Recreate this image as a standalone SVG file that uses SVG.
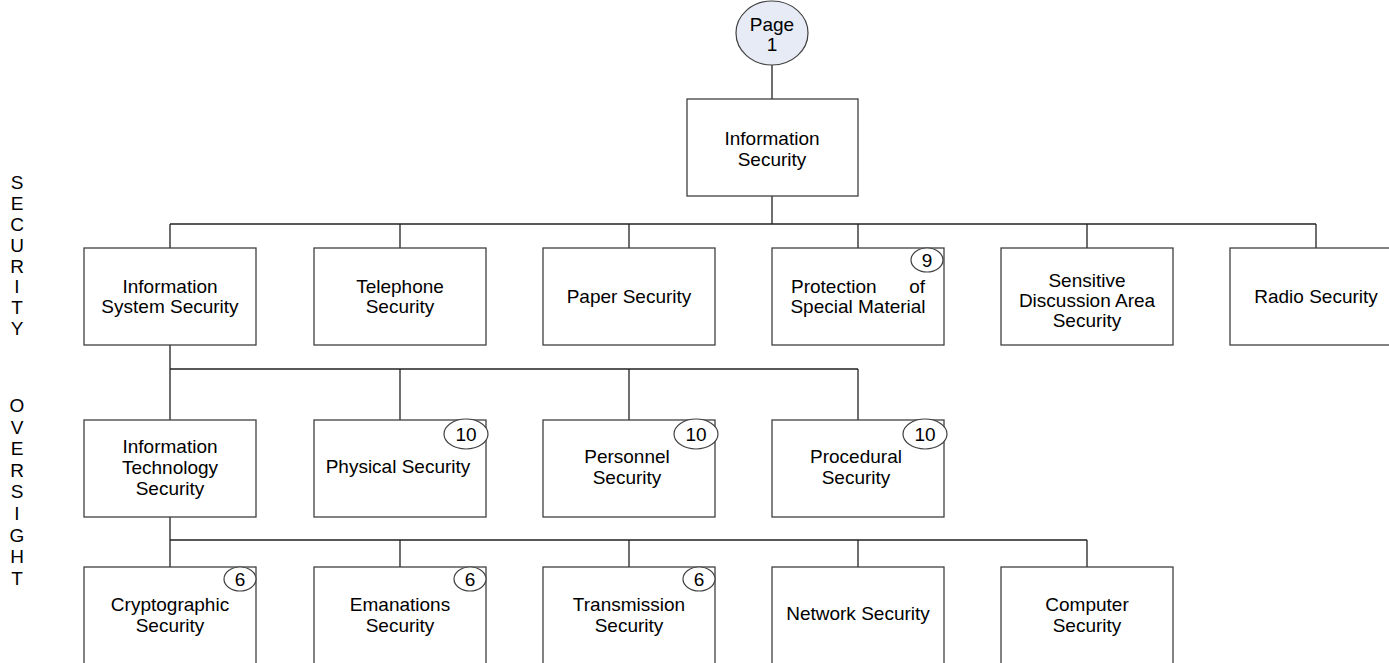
<svg xmlns="http://www.w3.org/2000/svg" width="1389" height="663" viewBox="0 0 1389 663">
<style>
.box{fill:#fff;stroke:#404040;stroke-width:1.3}
.badge{fill:#fff;stroke:#404040;stroke-width:1.2}
.page{fill:#e6ebf5;stroke:#404040;stroke-width:1.2}
.ln{stroke:#222;stroke-width:1.3;fill:none}
text{font-family:"Liberation Sans",Arial,sans-serif;font-size:19px;fill:#000;text-anchor:middle}
</style>
<rect width="1389" height="663" fill="#fff"/>
<g id="connectors">
<path class="ln" d="M772 65V99M772 196V224M170 224H1316M170 224V248M400 224V248M629 224V248M858 224V248M1087 224V248M1316 224V248"/>
<path class="ln" d="M170 345V369M170 369H858M170 369V420M400 369V420M629 369V420M858 369V420"/>
<path class="ln" d="M170 517V540M170 540H1087M170 540V567M400 540V567M629 540V567M858 540V567M1087 540V567"/>
</g>
<g id="side-label">
<text x="17" y="189">S</text><text x="17" y="210">E</text><text x="17" y="231">C</text><text x="17" y="252">U</text><text x="17" y="273">R</text><text x="17" y="293">I</text><text x="17" y="314">T</text><text x="17" y="335">Y</text>
<text x="17" y="412">O</text><text x="17" y="434">V</text><text x="17" y="455">E</text><text x="17" y="477">R</text><text x="17" y="498">S</text><text x="17" y="520">I</text><text x="17" y="542">G</text><text x="17" y="563">H</text><text x="17" y="585">T</text>
</g>
<g id="page1"><ellipse class="page" cx="772" cy="33" rx="36" ry="32"/><text x="772" y="31">Page</text><text x="772" y="51">1</text></g>
<g id="information-security"><rect class="box" x="687" y="99" width="171" height="97"/><text x="772" y="145">Information</text><text x="772" y="166">Security</text></g>
<g id="information-system-security"><rect class="box" x="84" y="248" width="172" height="97"/><text x="170" y="293">Information</text><text x="170" y="313">System Security</text></g>
<g id="telephone-security"><rect class="box" x="314" y="248" width="172" height="97"/><text x="400" y="293">Telephone</text><text x="400" y="313">Security</text></g>
<g id="paper-security"><rect class="box" x="543" y="248" width="172" height="97"/><text x="629" y="303">Paper Security</text></g>
<g id="protection-special-material"><rect class="box" x="772" y="248" width="172" height="97"/><text x="791" y="293" style="text-anchor:start">Protection</text><text x="925" y="293" style="text-anchor:end">of</text><text x="858" y="313">Special Material</text><ellipse class="badge" cx="927" cy="260" rx="16" ry="12"/><text x="927" y="267">9</text></g>
<g id="sensitive-discussion-area-security"><rect class="box" x="1001" y="248" width="172" height="97"/><text x="1087" y="287">Sensitive</text><text x="1087" y="307">Discussion Area</text><text x="1087" y="327">Security</text></g>
<g id="radio-security"><rect class="box" x="1230" y="248" width="172" height="97"/><text x="1316" y="303">Radio Security</text></g>
<g id="information-technology-security"><rect class="box" x="84" y="420" width="172" height="97"/><text x="170" y="453">Information</text><text x="170" y="474">Technology</text><text x="170" y="495">Security</text></g>
<g id="physical-security"><rect class="box" x="314" y="420" width="172" height="97"/><text x="398" y="473">Physical Security</text><ellipse class="badge" cx="466" cy="434" rx="22" ry="15"/><text x="466" y="441">10</text></g>
<g id="personnel-security"><rect class="box" x="543" y="420" width="172" height="97"/><text x="627" y="463">Personnel</text><text x="627" y="484">Security</text><ellipse class="badge" cx="696" cy="434" rx="22" ry="15"/><text x="696" y="441">10</text></g>
<g id="procedural-security"><rect class="box" x="772" y="420" width="172" height="97"/><text x="856" y="463">Procedural</text><text x="856" y="484">Security</text><ellipse class="badge" cx="925" cy="434" rx="22" ry="15"/><text x="925" y="441">10</text></g>
<g id="cryptographic-security"><rect class="box" x="84" y="567" width="172" height="97"/><text x="170" y="611">Cryptographic</text><text x="170" y="632">Security</text><ellipse class="badge" cx="240" cy="579" rx="16" ry="12"/><text x="240" y="586">6</text></g>
<g id="emanations-security"><rect class="box" x="314" y="567" width="172" height="97"/><text x="400" y="611">Emanations</text><text x="400" y="632">Security</text><ellipse class="badge" cx="470" cy="579" rx="16" ry="12"/><text x="470" y="586">6</text></g>
<g id="transmission-security"><rect class="box" x="543" y="567" width="172" height="97"/><text x="629" y="611">Transmission</text><text x="629" y="632">Security</text><ellipse class="badge" cx="699" cy="579" rx="16" ry="12"/><text x="699" y="586">6</text></g>
<g id="network-security"><rect class="box" x="772" y="567" width="172" height="97"/><text x="858" y="620">Network Security</text></g>
<g id="computer-security"><rect class="box" x="1001" y="567" width="172" height="97"/><text x="1087" y="611">Computer</text><text x="1087" y="632">Security</text></g>
</svg>
